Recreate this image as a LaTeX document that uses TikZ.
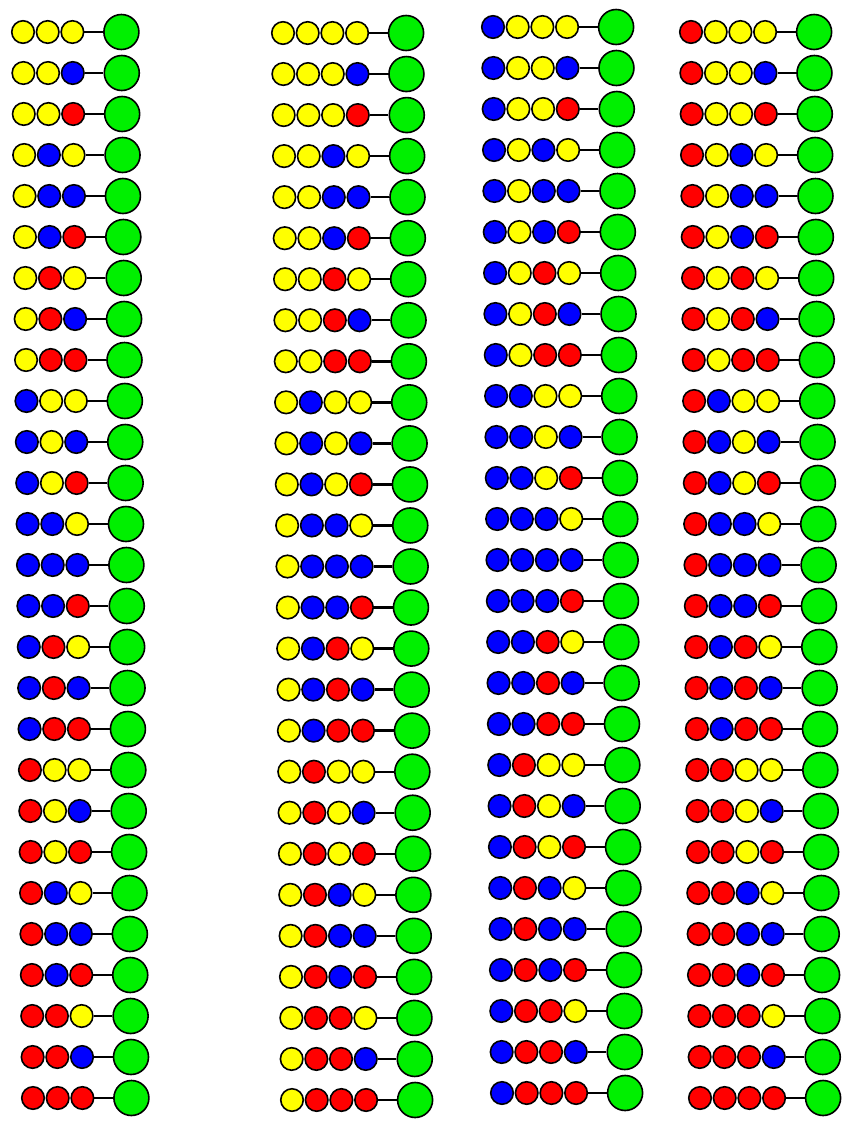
\documentclass[tikz,border=0pt]{standalone}
\definecolor{c0}{RGB}{255,255,0}
\definecolor{c1}{RGB}{0,0,255}
\definecolor{c2}{RGB}{255,0,0}
\definecolor{cg}{RGB}{0,240,0}
\tikzset{
  bead/.style={circle,draw=black,line width=1.6pt,minimum size=22.5pt,inner sep=0pt},
  gbead/.style={circle,draw=black,line width=1.6pt,fill=cg,minimum size=35pt,inner sep=0pt},
  link/.style={draw=black,line width=2.4pt}
}
\begin{document}
\begin{tikzpicture}[x=1pt,y=-1pt]
\useasboundingbox (0,0) rectangle (855,1125);
\foreach \col/\xa/\xb/\ya/\yb/\pre in {1/23/33/32/1098/-1, 2/283/292/33/1100/0, 3/493/502/27/1093/1, 4/691/700/32/1098/2}{
  \foreach \i in {0,...,26}{
    \pgfmathsetmacro\x{\xa+(\xb-\xa)/26*\i}
    \pgfmathsetmacro\y{\ya+(\yb-\ya)/26*\i}
    \pgfmathtruncatemacro\da{int(\i/9)}
    \pgfmathtruncatemacro\db{mod(int(\i/3),3)}
    \pgfmathtruncatemacro\dc{mod(\i,3)}
    \ifnum\pre<0
      \edef\beadlist{\da,\db,\dc}\def\nb{3}
    \else
      \edef\beadlist{\pre,\da,\db,\dc}\def\nb{4}
    \fi
    \foreach \d [count=\k from 0] in \beadlist {
      \node[bead,fill=c\d] (b\col-\i-\k) at ({\x+24.7*\k},\y) {};
    }
    \pgfmathsetmacro\gx{\x+24.7*(\nb-1)+49}
    \pgfmathtruncatemacro\lastk{\nb-1}
    \node[gbead] (g\col-\i) at (\gx,\y) {};
    \draw[link] (b\col-\i-\lastk) -- (g\col-\i);
  }
}
\end{tikzpicture}
\end{document}
